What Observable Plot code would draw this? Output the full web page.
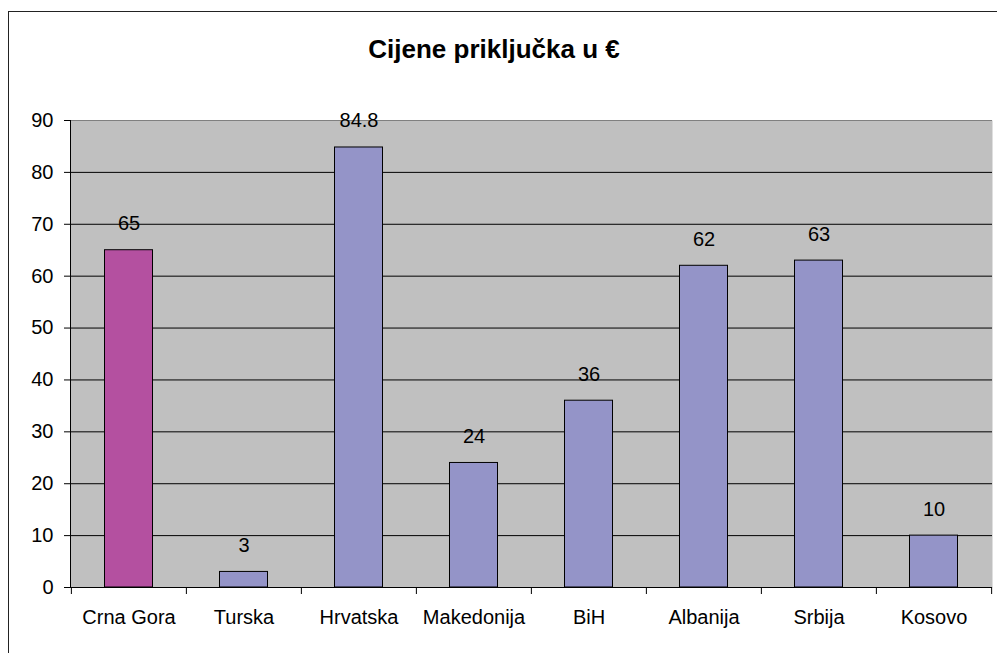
<!DOCTYPE html>
<html>
<head>
<meta charset="utf-8">
<script src="https://cdn.jsdelivr.net/npm/d3@7"></script>
<script src="https://cdn.jsdelivr.net/npm/@observablehq/plot@0.6"></script>
<style>
  html, body { margin: 0; padding: 0; background: #fff; overflow: hidden; }
  #wrap { position: relative; width: 997px; height: 653px; overflow: hidden; font-family: "Liberation Sans", Arial, sans-serif; }
  #border { position: absolute; left: 8px; top: 11px; width: 1200px; height: 1000px; border: 1px solid #222; box-sizing: border-box; }
  #chart { position: absolute; left: 0; top: 0; }
</style>
</head>
<body>
<div id="wrap"><div id="border"></div><div id="chart"></div></div>
<script>
const title = "Cijene priključka u €";
const categories = ["Crna Gora", "Turska", "Hrvatska", "Makedonija", "BiH", "Albanija", "Srbija", "Kosovo"];
const values = [65, 3, 84.8, 24, 36, 62, 63, 10];
const highlighted = ["Crna Gora"];
const yTicks = [0, 10, 20, 30, 40, 50, 60, 70, 80, 90];

const data = categories.map((name, i) => ({name, value: values[i]}));

const W = 997, H = 653, ML = 70, MR = 5, MT = 120, MB = 66;
const bw = (W - ML - MR) / categories.length;
const font = "Liberation Sans, Arial, sans-serif";

const chart = Plot.plot({
  width: W,
  height: H,
  marginLeft: ML,
  marginRight: MR,
  marginTop: MT,
  marginBottom: MB,
  style: {fontFamily: font, fontSize: "20px", color: "#000", background: "transparent", overflow: "visible"},
  x: {domain: categories, padding: 0},
  y: {domain: [0, 90]},
  marks: [
    Plot.frame({fill: "#C0C0C0", stroke: null}),
    Plot.gridY(yTicks.filter(t => t > 0 && t < 90), {stroke: "#000", strokeOpacity: 1}),
    Plot.gridY([90], {stroke: "#808080", strokeOpacity: 1}),
    Plot.barY(data, {
      x: "name", y: "value",
      fill: d => highlighted.includes(d.name) ? "#B450A0" : "#9494C8",
      stroke: "#000", strokeWidth: 1,
      insetLeft: 33.5, insetRight: 33.5
    }),
    Plot.text(data, {
      x: "name", y: "value", text: d => String(d.value),
      lineAnchor: "bottom", dy: -20, fontSize: 20, fill: "#000"
    }),
    Plot.frame({anchor: "left", stroke: "#000"}),
    Plot.ruleY([0], {stroke: "#000"}),
    Plot.axisY({ticks: yTicks, tickSize: 6, tickPadding: 11, fontSize: 20, label: null, stroke: "#000"}),
    Plot.axisX({tickSize: 0, tickPadding: 22, fontSize: 20, label: null}),
    Plot.axisX({ticks: categories, text: null, tickSize: 7, dx: -bw / 2, label: null, stroke: "#000"}),
    Plot.axisX({ticks: categories.slice(-1), text: null, tickSize: 7, dx: bw / 2, label: null, stroke: "#000"})
  ]
});

d3.select(chart).append("text")
  .attr("x", 494)
  .attr("y", 58)
  .attr("text-anchor", "middle")
  .attr("font-family", font)
  .attr("font-size", 26)
  .attr("font-weight", "bold")
  .attr("fill", "#000")
  .text(title);

document.getElementById("chart").appendChild(chart);
</script>
</body>
</html>
